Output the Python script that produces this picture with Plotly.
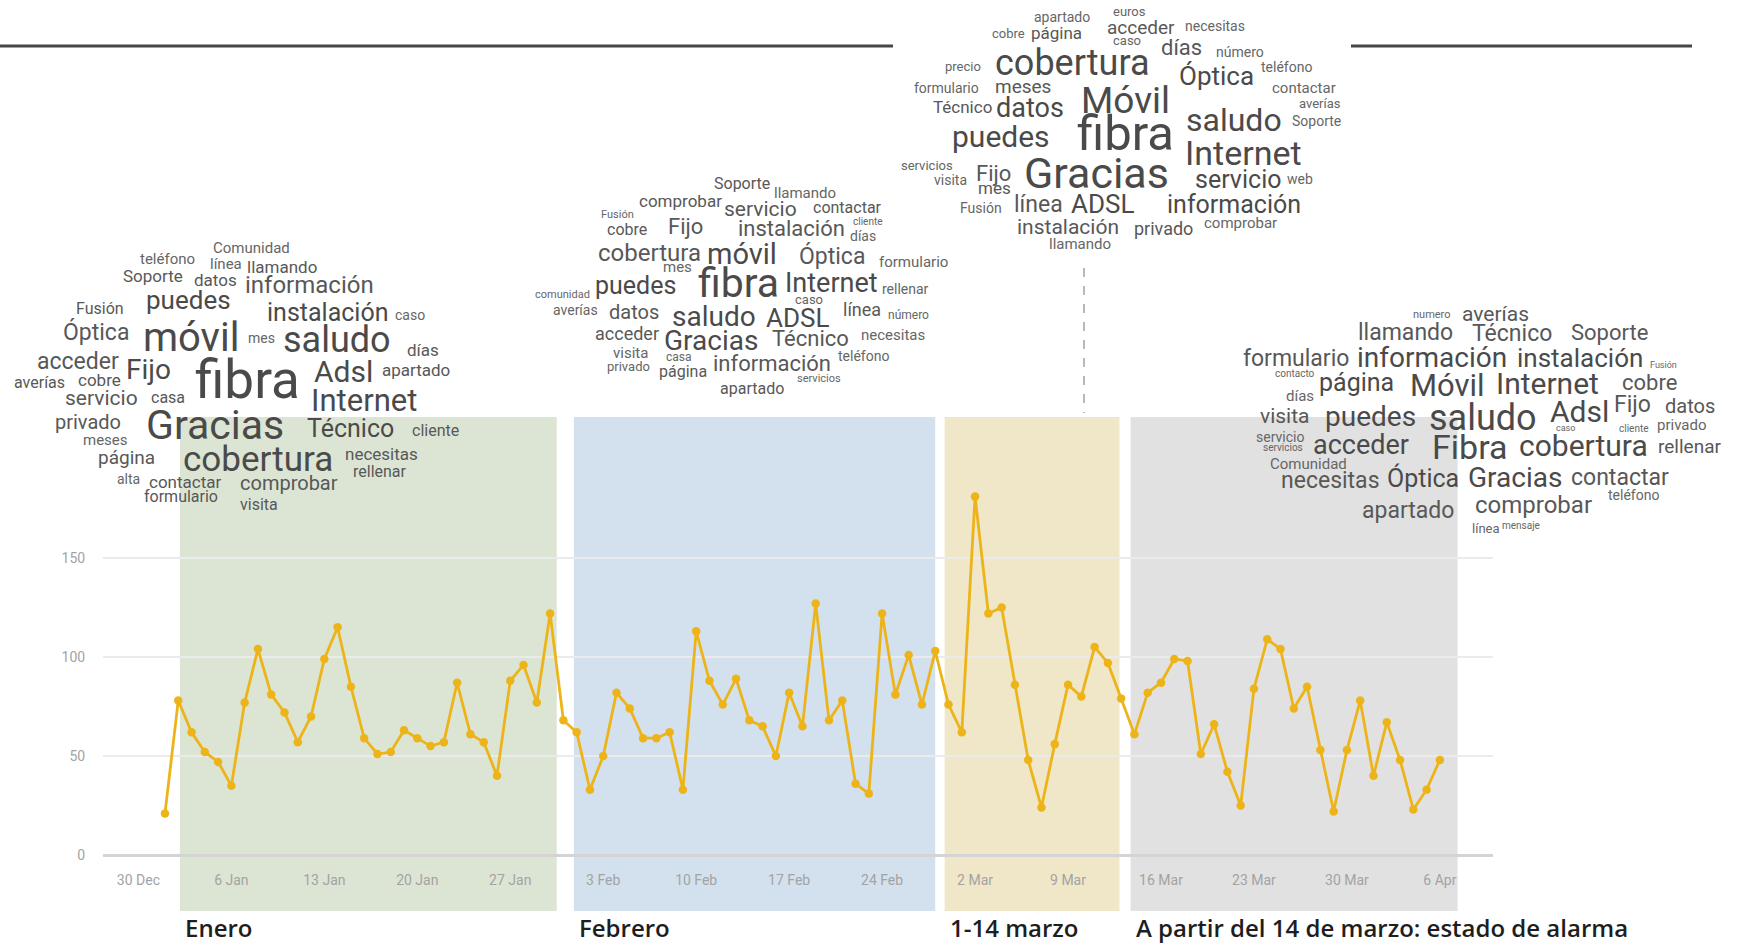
import pandas as pd
import plotly.graph_objects as go

W, H = 1752, 947

# ---------------- data ----------------
start_date = "2020-01-01"
jan_values = [21, 78, 62, 52, 47, 35, 77, 104, 81, 72, 57, 70, 99, 115, 85, 59, 51, 52, 63, 59,
              55, 57, 87, 61, 57, 40, 88, 96, 77, 122, 68]
feb_values = [62, 33, 50, 82, 74, 59, 59, 62, 33, 113, 88, 76, 89, 68, 65, 50, 82, 65, 127, 68,
              78, 36, 31, 122, 81, 101, 76, 103, 76]
mar_values = [62, 181, 122, 125, 86, 48, 24, 56, 86, 80, 105, 97, 79, 61, 82, 87, 99, 98, 51, 66,
              42, 25, 84, 109, 104, 74, 85, 53, 22, 53, 78]
apr_values = [40, 67, 48, 23, 33, 48]

values = jan_values + feb_values + mar_values + apr_values
dates = pd.date_range(start_date, periods=len(values), freq="D")

period_labels = ["Enero", "Febrero", "1-14 marzo", "A partir del 14 de marzo: estado de alarma"]
period_starts = ["2020-01-02 03:00", "2020-01-31 19:00", "2020-02-28 17:00", "2020-03-13 17:00"]
period_ends = ["2020-01-30 12:00", "2020-02-28 00:00", "2020-03-12 21:00", "2020-04-07 08:00"]
period_colors = ["#dce5d4", "#d3e1ee", "#f0e6c8", "#e1e1e1"]

y_ticks = [0, 50, 100, 150]

# ---------------- word clouds (word, x px, y px, font px) ----------------
cloud_enero = [
    ("Comunidad", 251, 248, 15), ("teléfono", 167, 259, 15), ("línea", 226, 264, 15),
    ("llamando", 282, 267, 17), ("Soporte", 153, 276, 17), ("datos", 215, 280, 17),
    ("información", 309, 285, 24), ("puedes", 188, 300, 26), ("Fusión", 100, 308, 16),
    ("instalación", 327, 312, 25), ("caso", 410, 315, 14), ("Óptica", 96, 332, 23),
    ("móvil", 191, 337, 40), ("mes", 261, 338, 14), ("saludo", 337, 340, 36),
    ("días", 423, 350, 17), ("acceder", 78, 362, 23), ("Fijo", 148, 369, 28),
    ("fibra", 247, 380, 53), ("Adsl", 343, 372, 30), ("apartado", 416, 370, 17),
    ("averías", 39, 382, 16), ("cobre", 99, 380, 17), ("servicio", 101, 398, 21),
    ("casa", 168, 398, 16), ("Internet", 364, 400, 31), ("privado", 88, 422, 20),
    ("Gracias", 215, 425, 41), ("Técnico", 350, 429, 25), ("cliente", 435, 431, 16),
    ("meses", 105, 440, 15), ("cobertura", 258, 460, 35), ("página", 126, 457, 19),
    ("necesitas", 381, 454, 17), ("rellenar", 380, 471, 16), ("alta", 128, 479, 14),
    ("contactar", 185, 482, 17), ("comprobar", 289, 483, 20), ("formulario", 181, 496, 16),
    ("visita", 259, 504, 16),
]
cloud_febrero = [
    ("Soporte", 742, 183, 16), ("llamando", 805, 193, 15), ("comprobar", 680, 201, 17),
    ("servicio", 760, 209, 21), ("contactar", 847, 207, 16), ("Fusión", 617, 214, 11),
    ("cobre", 627, 230, 16), ("Fijo", 685, 226, 22), ("instalación", 791, 228, 22),
    ("cliente", 868, 222, 10), ("días", 863, 236, 14), ("cobertura", 649, 253, 24),
    ("móvil", 742, 254, 29), ("Óptica", 832, 256, 23), ("mes", 677, 267, 15),
    ("formulario", 913, 262, 15), ("fibra", 738, 283, 41), ("puedes", 635, 286, 25),
    ("comunidad", 562, 294, 11), ("Internet", 831, 283, 27), ("rellenar", 905, 289, 14),
    ("caso", 809, 299, 13), ("averías", 575, 310, 14), ("datos", 634, 312, 20),
    ("saludo", 714, 316, 28), ("ADSL", 797, 318, 26), ("línea", 862, 309, 18),
    ("número", 908, 315, 12), ("acceder", 627, 333, 18), ("Gracias", 711, 341, 28),
    ("Técnico", 810, 338, 22), ("necesitas", 893, 335, 15), ("visita", 630, 353, 15),
    ("privado", 628, 366, 13), ("casa", 679, 357, 12), ("página", 683, 372, 16),
    ("información", 772, 363, 22), ("teléfono", 863, 356, 14), ("servicios", 819, 378, 11),
    ("apartado", 752, 388, 16),
]
cloud_marzo = [
    ("apartado", 1062, 17, 14), ("euros", 1129, 12, 13), ("cobre", 1008, 33, 13),
    ("página", 1056, 33, 17), ("acceder", 1141, 27, 19), ("necesitas", 1215, 26, 14),
    ("caso", 1127, 41, 13), ("días", 1181, 47, 22), ("número", 1240, 52, 14),
    ("precio", 963, 67, 13), ("cobertura", 1072, 63, 36), ("Óptica", 1216, 76, 26),
    ("teléfono", 1286, 67, 14), ("formulario", 946, 88, 14), ("meses", 1023, 87, 19),
    ("Móvil", 1125, 100, 37), ("contactar", 1304, 88, 15), ("averías", 1320, 103, 13),
    ("Técnico", 962, 107, 17), ("datos", 1030, 108, 27), ("saludo", 1234, 120, 32),
    ("Soporte", 1316, 121, 14), ("puedes", 1001, 137, 30), ("fibra", 1125, 133, 49),
    ("Internet", 1243, 153, 34), ("servicios", 927, 165, 13), ("visita", 950, 180, 14),
    ("Fijo", 993, 173, 22), ("Gracias", 1096, 173, 43), ("servicio", 1238, 180, 25),
    ("web", 1300, 179, 14), ("mes", 994, 188, 17), ("Fusión", 981, 208, 14),
    ("línea", 1038, 205, 23), ("ADSL", 1102, 204, 26), ("información", 1234, 205, 25),
    ("instalación", 1068, 227, 21), ("privado", 1163, 228, 18), ("comprobar", 1240, 223, 15),
    ("llamando", 1080, 244, 15),
]
cloud_alarma = [
    ("numero", 1432, 314, 11), ("averías", 1495, 314, 21), ("llamando", 1405, 332, 23),
    ("Técnico", 1512, 333, 23), ("Soporte", 1609, 332, 22), ("formulario", 1296, 358, 23),
    ("información", 1432, 357, 28), ("instalación", 1580, 358, 26), ("Fusión", 1663, 365, 9),
    ("contacto", 1295, 374, 10), ("página", 1356, 382, 25), ("Móvil", 1447, 385, 31),
    ("Internet", 1547, 383, 30), ("cobre", 1649, 382, 22), ("días", 1300, 396, 15),
    ("visita", 1285, 416, 21), ("puedes", 1370, 417, 28), ("saludo", 1483, 418, 36),
    ("Adsl", 1579, 412, 30), ("Fijo", 1632, 404, 23), ("datos", 1690, 406, 20),
    ("caso", 1565, 428, 9), ("cliente", 1634, 428, 10), ("privado", 1681, 425, 15),
    ("servicio", 1280, 437, 14), ("servicios", 1283, 448, 10), ("acceder", 1361, 445, 27),
    ("Fibra", 1470, 447, 34), ("cobertura", 1583, 445, 30), ("rellenar", 1689, 446, 19),
    ("Comunidad", 1308, 464, 15), ("necesitas", 1330, 481, 23), ("Óptica", 1423, 478, 25),
    ("Gracias", 1515, 477, 28), ("contactar", 1620, 477, 23), ("teléfono", 1633, 495, 14),
    ("apartado", 1408, 510, 23), ("comprobar", 1533, 505, 24), ("línea", 1486, 528, 13),
    ("mensaje", 1521, 525, 10),
]
clouds = [cloud_enero, cloud_febrero, cloud_marzo, cloud_alarma]

# ---------------- layout geometry (pixels) ----------------
PLOT_L, PLOT_R = 103, 1493
PLOT_BOTTOM, PLOT_TOP = 855, 459  # y=0 at 855, y=200 at 459
RECT_TOP, RECT_BOTTOM = 417, 911


def px(x):
    return x / W


def py(y):
    return 1 - y / H


fig = go.Figure()

fig.add_trace(go.Scatter(
    x=dates, y=values, mode="lines+markers",
    line=dict(color="#EDB41A", width=2.8),
    marker=dict(color="#EDB41A", size=8.5),
    hoverinfo="x+y", showlegend=False,
))

shapes = []
for s, e, c in zip(period_starts, period_ends, period_colors):
    shapes.append(dict(type="rect", xref="x", yref="paper", x0=s, x1=e,
                       y0=py(RECT_BOTTOM), y1=py(RECT_TOP),
                       fillcolor=c, line=dict(width=0), layer="below"))

# top decorative rules
shapes.append(dict(type="line", xref="paper", yref="paper", x0=px(0), x1=px(893),
                   y0=py(46), y1=py(46), line=dict(color="#474747", width=3)))
shapes.append(dict(type="line", xref="paper", yref="paper", x0=px(1351), x1=px(1692),
                   y0=py(46), y1=py(46), line=dict(color="#474747", width=3)))
# dashed connector under the March cloud
shapes.append(dict(type="line", xref="paper", yref="paper", x0=px(1084), x1=px(1084),
                   y0=py(268), y1=py(413), line=dict(color="#8a8a8a", width=1.2, dash="dash")))

annotations = []
for cloud in clouds:
    for word, x, y, size in cloud:
        col = "#4a4a4a" if size >= 25 else ("#585858" if size >= 16 else "#666666")
        annotations.append(dict(text=word, xref="paper", yref="paper", x=px(x), y=py(y),
                                xanchor="center", yanchor="middle", showarrow=False,
                                font=dict(family="Roboto", size=size, color=col)))

for lbl, s in zip(period_labels, period_starts):
    annotations.append(dict(text=lbl, xref="x", yref="paper", x=s, y=py(927),
                            xanchor="left", yanchor="middle", xshift=3, showarrow=False,
                            font=dict(family="Open Sans", size=24, color="#1e1e1e", weight=600)))

fig.update_layout(
    width=W, height=H,
    margin=dict(l=0, r=0, t=0, b=0),
    paper_bgcolor="white", plot_bgcolor="rgba(0,0,0,0)",
    shapes=shapes, annotations=annotations,
    xaxis=dict(
        domain=[px(PLOT_L), px(PLOT_R)],
        range=["2019-12-27 08:00", "2020-04-10 00:00"],
        type="date", tick0="2019-12-30", dtick=7 * 24 * 3600 * 1000,
        tickformat="%-d %b", showgrid=False, zeroline=False, showline=False,
        ticks="outside", ticklen=12, tickcolor="rgba(0,0,0,0)",
        tickfont=dict(family="Roboto", size=14, color="#a3a3a3"),
        automargin=False,
    ),
    yaxis=dict(
        domain=[py(PLOT_BOTTOM), py(PLOT_TOP)],
        range=[0, 200], tickvals=y_ticks,
        showgrid=True, gridcolor="#ebebeb", gridwidth=1.5,
        zeroline=True, zerolinecolor="#d4d4d4", zerolinewidth=2.5,
        showline=False, ticks="outside", ticklen=14, tickcolor="rgba(0,0,0,0)",
        tickfont=dict(family="Roboto", size=14, color="#a3a3a3"),
        automargin=False,
    ),
)

fig.write_html("out.html", config={"displayModeBar": False},
               post_script="document.body.style.margin='0';document.body.style.overflow='hidden';")
